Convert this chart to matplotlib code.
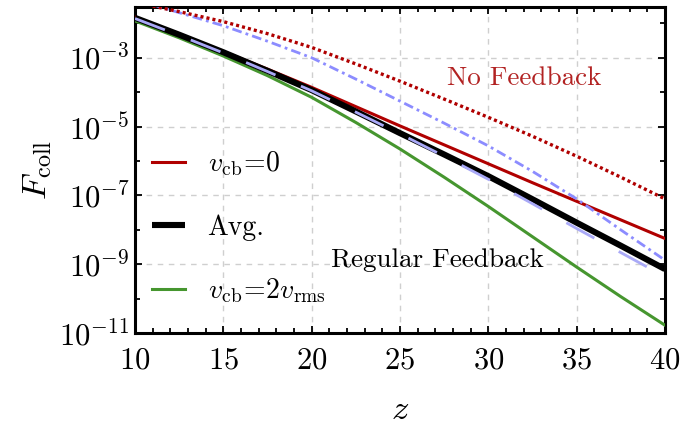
import matplotlib
matplotlib.use('Agg')
import matplotlib.pyplot as plt
import numpy as np
from matplotlib.ticker import FixedLocator, MultipleLocator, LogFormatterMathtext, NullFormatter

plt.rcParams['font.family'] = ['cmr10', 'DejaVu Sans']
plt.rcParams['mathtext.fontset'] = 'cm'
plt.rcParams['axes.formatter.use_mathtext'] = True
plt.rcParams['lines.scale_dashes'] = False

# redshift samples and log10(F_coll)
z = [10, 12.5, 15, 17.5, 20, 22.5, 25, 27.5, 30, 32.5, 35, 37.5, 40]
z_nofb = [11, 12.5, 15, 17.5, 20, 22.5, 25, 27.5, 30, 32.5, 35, 37.5, 40]

logF_v0 = [-1.82, -2.31, -2.82, -3.33, -3.86, -4.42, -4.98, -5.53, -6.08, -6.63, -7.17, -7.71, -8.25]
logF_avg = [-1.84, -2.33, -2.84, -3.38, -3.94, -4.56, -5.19, -5.81, -6.44, -7.11, -7.79, -8.46, -9.14]
logF_v2rms = [-1.93, -2.42, -2.95, -3.52, -4.15, -4.88, -5.65, -6.47, -7.32, -8.20, -9.08, -9.94, -10.77]
logF_avg_regfb = [-1.86, -2.35, -2.86, -3.40, -3.96, -4.58, -5.21, -5.86, -6.53, -7.24, -7.96, -8.66, -9.36]
logF_v0_nofb = [-1.50, -1.66, -1.95, -2.30, -2.70, -3.18, -3.68, -4.20, -4.73, -5.28, -5.86, -6.47, -7.10]
logF_avg_nofb = [-1.46, -1.69, -2.07, -2.52, -3.00, -3.62, -4.26, -4.90, -5.56, -6.30, -7.10, -8.00, -8.88]

dark_red = '#b00000'
green = '#46962f'
blue_dash = '#a9a9f7'
blue_dd = '#8c8cff'

fig = plt.figure(figsize=(6.82, 4.26), dpi=100)
ax = fig.add_axes([0.198, 0.218, 0.777, 0.766])

ax.plot(z, 10**np.array(logF_avg), color='black', lw=4.4, solid_capstyle='butt', label='Avg.', zorder=4)
ax.plot(z, 10**np.array(logF_avg_regfb), color=blue_dash, lw=2.0, ls=(0, (23, 20)), zorder=5)
ax.plot(z, 10**np.array(logF_v0), color=dark_red, lw=2.2, label=r'$v_{\rm cb}\!=\!0$', zorder=3)
ax.plot(z, 10**np.array(logF_v2rms), color=green, lw=2.2, label=r'$v_{\rm cb}\!=\!2v_{\rm rms}$', zorder=3)
ax.plot(z_nofb, 10**np.array(logF_avg_nofb), color=blue_dd, lw=2.0, ls=(0, (7, 3, 2, 3)), zorder=3)
ax.plot(z_nofb, 10**np.array(logF_v0_nofb), color=dark_red, lw=2.4, ls=(0, (2.2, 2.2)), zorder=3)

ax.set_yscale('log')
ax.set_xlim(10, 40)
ax.set_ylim(10**-11, 10**-1.52)

ax.xaxis.set_major_locator(MultipleLocator(5))
ax.xaxis.set_minor_locator(MultipleLocator(1))
ax.yaxis.set_major_locator(FixedLocator([1e-11, 1e-9, 1e-7, 1e-5, 1e-3]))
ax.yaxis.set_minor_locator(FixedLocator([1e-10, 1e-8, 1e-6, 1e-4, 1e-2]))
ax.yaxis.set_major_formatter(LogFormatterMathtext())
ax.yaxis.set_minor_formatter(NullFormatter())

ax.tick_params(which='both', direction='in', top=True, right=True, width=1.3, labelsize=22)
ax.tick_params(which='major', length=5)
ax.tick_params(which='minor', length=3.5)
ax.tick_params(axis='x', pad=10)
ax.tick_params(axis='y', pad=4)
for s in ax.spines.values():
    s.set_linewidth(2.2)

ax.grid(True, which='major', color='#cfcfcf', lw=1.0, ls=(0, (4, 4)))
ax.set_axisbelow(True)

ax.set_xlabel(r'$z$', fontsize=25, labelpad=14)
ax.set_ylabel(r'$F_{\rm coll}$', fontsize=25, labelpad=4)

ax.text(0.735, 0.78, 'No Feedback', transform=ax.transAxes, color='#b22222',
        fontsize=19.5, ha='center', va='center')
ax.text(0.57, 0.225, 'Regular Feedback', transform=ax.transAxes, color='black',
        fontsize=19.5, ha='center', va='center')

handles, labels = ax.get_legend_handles_labels()
order = [1, 0, 2]
leg = ax.legend([handles[i] for i in order], [labels[i] for i in order],
                loc='center left', bbox_to_anchor=(0.032, 0.324), frameon=False,
                fontsize=20, handlelength=1.2, handletextpad=0.8,
                labelspacing=1.3, borderpad=0, borderaxespad=0)

fig.savefig('out.png', dpi=100)
